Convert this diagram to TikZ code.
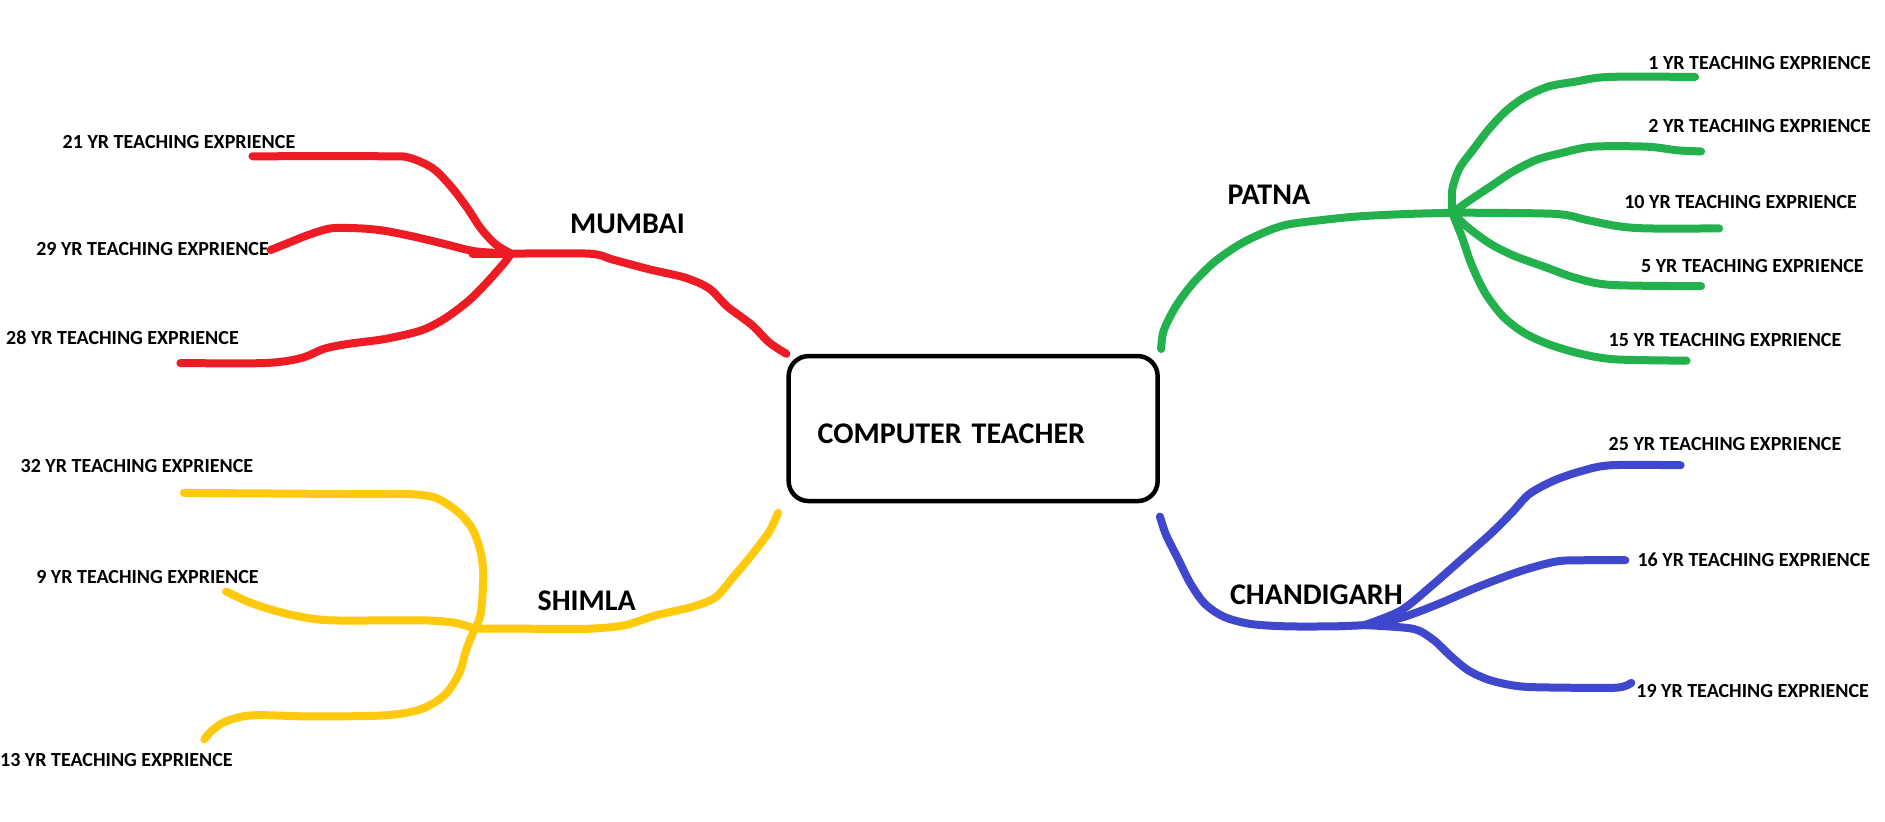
\documentclass[tikz,border=0pt]{standalone}
\usepackage{fontspec}
\setmainfont{Carlito}
\definecolor{pred}{HTML}{ED1C24}
\definecolor{pgreen}{HTML}{22B14C}
\definecolor{pyellow}{HTML}{FFC90E}
\definecolor{pblue}{HTML}{3F48CC}
\tikzset{
  lbl/.style={font=\fontsize{20}{24}\selectfont\bfseries, inner sep=0pt, anchor=west},
  city/.style={font=\fontsize{30}{36}\selectfont\bfseries, inner sep=0pt, anchor=west},
  hub/.style={draw=black, line width=4.5pt, rounded corners=20pt, minimum width=369pt, minimum height=145pt,
    text width=311pt, inner xsep=29pt, align=left, text height=30pt, text depth=0pt,
    font=\fontsize{30}{36}\selectfont\bfseries},
  branch/.style={line width=8pt, line cap=round, line join=round},
}
\begin{document}
\begin{tikzpicture}[x=1.2022pt,y=-1.2022pt]
\useasboundingbox (0,0) rectangle (1568,683);
\fill[white] (0,0) rectangle (1568,683);

% centre
\node[hub] (ct) at (809.5,356.5) {COMPUTER TEACHER};

% city labels
\node[city] (mumbai) at (474,186) {MUMBAI};
\node[city] (patna) at (1021,162) {PATNA};
\node[city] (chandigarh) at (1023,495) {CHANDIGARH};
\node[city] (shimla) at (447,500) {SHIMLA};

% leaf labels
\node[lbl] (l21) at (52,118) {21 YR TEACHING EXPRIENCE};
\node[lbl] (l29) at (30,207) {29 YR TEACHING EXPRIENCE};
\node[lbl] (l28) at (5,281) {28 YR TEACHING EXPRIENCE};
\node[lbl] (l1) at (1371,52) {1 YR TEACHING EXPRIENCE};
\node[lbl] (l2) at (1371,105) {2 YR TEACHING EXPRIENCE};
\node[lbl] (l10) at (1351,168) {10 YR TEACHING EXPRIENCE};
\node[lbl] (l5) at (1365,221) {5 YR TEACHING EXPRIENCE};
\node[lbl] (l15) at (1338,283) {15 YR TEACHING EXPRIENCE};
\node[lbl] (l25) at (1338,369) {25 YR TEACHING EXPRIENCE};
\node[lbl] (l16) at (1362,466) {16 YR TEACHING EXPRIENCE};
\node[lbl] (l19) at (1361,575) {19 YR TEACHING EXPRIENCE};
\node[lbl] (l32) at (17,388) {32 YR TEACHING EXPRIENCE};
\node[lbl] (l9) at (30,480) {9 YR TEACHING EXPRIENCE};
\node[lbl] (l13) at (0,632) {13 YR TEACHING EXPRIENCE};

% junctions and free ends
\coordinate (mj) at (425,211);
\coordinate (gj) at (1208,177);
\coordinate (bj) at (1135,520);
\coordinate (yj) at (395,523);
\coordinate (gs) at ([shift={(1,-4)}]ct.north east);
\coordinate (bs) at ([shift={(0,11)}]ct.south east);
\coordinate (ys) at ([shift={(-7,8)}]ct.south west);
\coordinate (e21) at (210,130);
\coordinate (e29) at (225,208);
\coordinate (e28) at (150,302);
\coordinate (e1) at (1410,64);
\coordinate (e2) at (1415,126);
\coordinate (e10) at (1430,190);
\coordinate (e5) at (1415,238);
\coordinate (e15) at (1403,300);
\coordinate (e25) at (1398,387);
\coordinate (e16) at (1352,466);
\coordinate (e19) at (1357,568);
\coordinate (e32) at (153,410);
\coordinate (e9) at (188,492);
\coordinate (e13) at (170,615);

% Mumbai (red)
\begin{scope}[branch, pred]
\draw plot[smooth, tension=0.5] coordinates {(ct.north west) (640,285) (625,270) (605,255) (590,240) (570,231) (540,224) (510,216) (490,211) (mj)};
\draw plot[smooth, tension=0.5] coordinates {(mj) (412,203) (400,190) (388,172) (375,155) (360,140) (340,131) (320,130) (e21)};
\draw plot[smooth, tension=0.5] coordinates {(mj) (395,209) (370,203) (345,197) (320,192) (300,190) (275,190) (255,196) (240,202) (e29)};
\draw (393,211) -- (mj);
\draw plot[smooth, tension=0.5] coordinates {(mj) (420,218) (405,235) (390,250) (370,265) (350,275) (320,282) (290,286) (270,290) (250,298) (220,302) (e28)};
\end{scope}

% Patna (green)
\begin{scope}[branch, pgreen]
\draw plot[smooth, tension=0.5] coordinates {(gs) (968,275) (978,255) (992,236) (1010,218) (1030,204) (1050,194) (1070,187) (1100,183) (1130,180) (1170,178) (gj)};
\draw plot[smooth, tension=0.5] coordinates {(gj) (1208,158) (1214,140) (1225,125) (1238,108) (1252,93) (1268,81) (1288,72) (1310,68) (1338,64) (e1)};
\draw plot[smooth, tension=0.5] coordinates {(gj) (1222,167) (1240,155) (1258,143) (1278,133) (1300,127) (1325,122) (1370,122) (1395,125) (e2)};
\draw plot[smooth, tension=0.5] coordinates {(gj) (1230,177) (1295,178) (1320,183) (1345,188) (1370,190) (e10)};
\draw plot[smooth, tension=0.5] coordinates {(gj) (1222,190) (1240,203) (1260,213) (1285,222) (1310,231) (1340,237) (e5)};
\draw plot[smooth, tension=0.5] coordinates {(gj) (1216,197) (1224,220) (1235,243) (1250,263) (1268,277) (1290,287) (1318,295) (1345,299) (e15)};
\end{scope}

% Chandigarh (blue)
\begin{scope}[branch, pblue]
\draw plot[smooth, tension=0.5] coordinates {(bs) (970,445) (980,465) (990,485) (1002,502) (1018,513) (1040,519) (1070,521) (1110,521) (bj)};
\draw plot[smooth, tension=0.5] coordinates {(bj) (1165,508) (1190,488) (1215,466) (1240,444) (1258,426) (1272,411) (1292,400) (1315,392) (1340,387) (e25)};
\draw plot[smooth, tension=0.5] coordinates {(bj) (1165,514) (1195,503) (1230,488) (1265,475) (1295,467) (1320,466) (e16)};
\draw plot[smooth, tension=0.5] coordinates {(bj) (1175,523) (1192,532) (1207,546) (1222,558) (1240,566) (1265,571) (1300,572) (1345,572) (e19)};
\end{scope}

% Shimla (yellow)
\begin{scope}[branch, pyellow]
\draw plot[smooth, tension=0.5] coordinates {(ys) (640,442) (625,462) (610,480) (595,497) (575,505) (545,512) (520,520) (490,523) (440,523) (yj)};
\draw plot[smooth, tension=0.5] coordinates {(yj) (400,510) (402,480) (400,460) (393,440) (380,425) (362,414) (340,411) (300,411) (e32)};
\draw plot[smooth, tension=0.5] coordinates {(yj) (378,518) (350,516) (275,516) (245,512) (222,506) (205,500) (e9)};
\draw plot[smooth, tension=0.5] coordinates {(yj) (388,540) (382,560) (370,578) (350,590) (320,595) (260,596) (210,595) (188,600) (176,608) (e13)};
\end{scope}
\end{tikzpicture}
\end{document}
